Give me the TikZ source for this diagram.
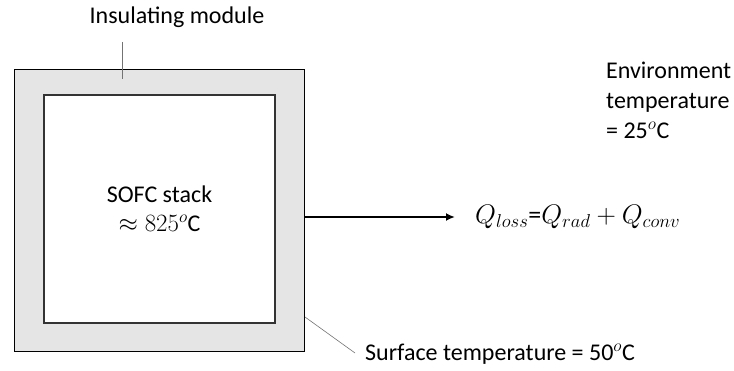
\documentclass[tikz,border=0pt]{standalone}
\usepackage{fontspec}
\setmainfont{Carlito}
\usepackage{amsmath}
\usepackage{tikz}
\usetikzlibrary{positioning, arrows.meta}

\begin{document}
\begin{tikzpicture}[
            x = 1pt, y = -1pt,
            every node/.style = {
                inner sep = 0pt,
                font = \fontsize{24}{27}\selectfont
            },
            shell/.style = {
                draw = black,
                line width = 0.8pt,
                fill = gray!20,
                minimum width = 290pt,
                minimum height = 282pt
            },
            stack/.style = {
                draw = black!80,
                line width = 1.2pt,
                fill = white,
                minimum width = 231pt,
                minimum height = 228pt,
                align = center
            },
            leader/.style = {
                draw = black!55,
                line width = 0.6pt
            },
            flow/.style = {
                draw,
                line width = 1.8pt,
                -{Latex[length = 9pt, width = 8pt]}
            }
        ]
            \useasboundingbox (0,0) rectangle (734,371);

            % module and stack
            \node[shell] (module) at (159,210) {};
            \node[stack] (stack) at (159.5,209) {
                SOFC stack \\[2pt]
                $\approx 825^{o}$C
            };

            % labels
            \node (insul) at (177,17) {Insulating module};
            \coordinate (insultip) at (122,42);
            \coordinate (insulend) at (122,79);
            \draw[leader] (insultip) -- (insulend);

            \coordinate (surfstart) at (305,317);
            \coordinate (surfend) at (355,353);
            \node[anchor = west] (surface) at (365,354) {Surface temperature = 50$^{o}$C};
            \draw[leader] (surfstart) -- (surfend);

            \node[anchor = north west, align = left] (envir) at (606,62) {
                Environment \\[3pt]
                temperature \\[3pt]
                = 25$^{o}$C
            };

            % heat loss
            \coordinate (arrowstart) at (module.east |- 0,217);
            \coordinate (arrowend) at (455,217);
            \draw[flow] (arrowstart) -- (arrowend);
            \node[anchor = west, scale = 1.08] (qloss) at (475,217) {$Q_{loss}$=$Q_{rad} + Q_{conv}$};
        \end{tikzpicture}
\end{document}
